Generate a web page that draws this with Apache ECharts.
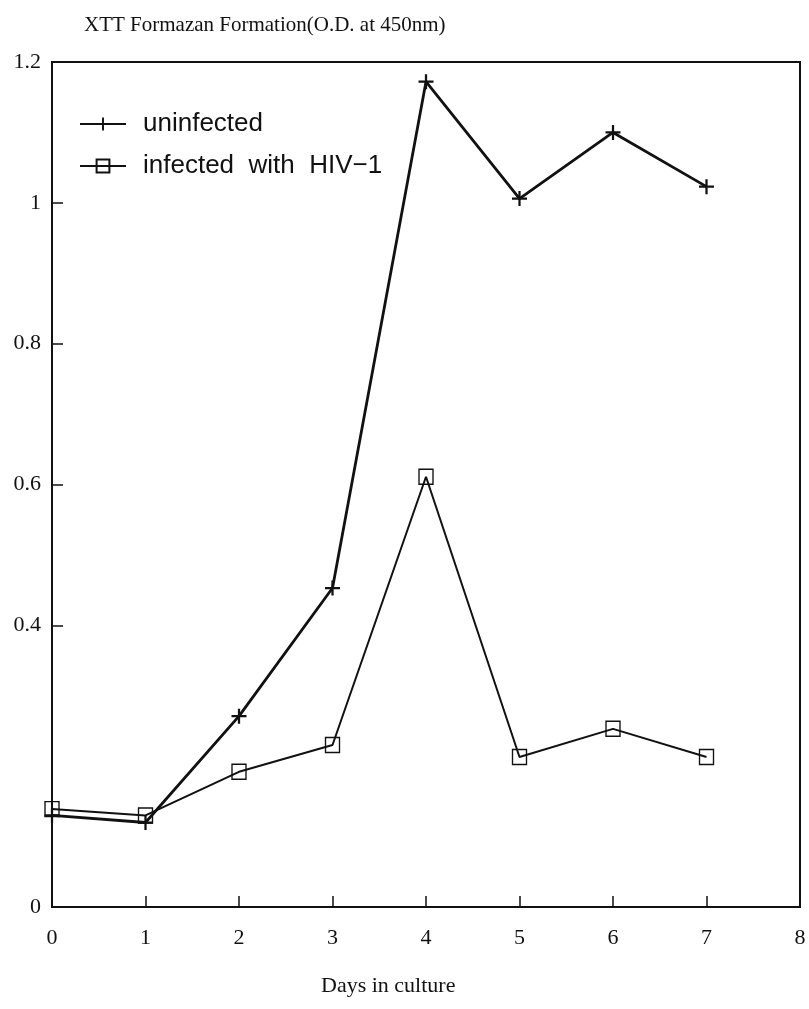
<!DOCTYPE html>
<html>
<head>
<meta charset="utf-8">
<script src="https://cdn.jsdelivr.net/npm/echarts@6/dist/echarts.min.js"></script>
<style>
html,body{margin:0;padding:0;background:#fff;}
#c{width:809px;height:1009px;}
</style>
</head>
<body>
<div id="c"></div>
<script>
const days = [0, 1, 2, 3, 4, 5, 6, 7];
const uninfected = [0.130, 0.120, 0.271, 0.453, 1.172, 1.006, 1.100, 1.023];
const infected = [0.139, 0.130, 0.192, 0.230, 0.611, 0.213, 0.253, 0.213];
const yLabelValues = [0, 0.4, 0.6, 0.8, 1, 1.2];
const yTickValues = [0.4, 0.6, 0.8, 1];
const seriesNames = ['uninfected', 'infected  with  HIV\u22121'];
const titleText = 'XTT Formazan Formation(O.D. at 450nm)';
const xName = 'Days in culture';

const serif = '"Liberation Serif", "DejaVu Serif", serif';
const sans = '"Liberation Sans", Arial, sans-serif';
const plus = 'path://M-1.5,-10H1.5V-1.5H10V1.5H1.5V10H-1.5V1.5H-10V-1.5H-1.5Z';

const chart = echarts.init(document.getElementById('c'), null, {renderer: 'canvas'});
chart.setOption({
  animation: false,
  backgroundColor: '#fff',
  title: [
    {text: titleText, left: 79, top: 10,
     textStyle: {fontFamily: serif, fontSize: 21, fontWeight: 'normal', color: '#111'}},
    {text: xName, left: 316, top: 970,
     textStyle: {fontFamily: serif, fontSize: 22, fontWeight: 'normal', color: '#111'}}
  ],
  legend: {
    orient: 'vertical', left: 74, top: 106, itemWidth: 46, itemHeight: 16, itemGap: 16,
    textStyle: {fontFamily: sans, fontSize: 26, color: '#111', padding: [0, 0, 0, 12]},
    data: seriesNames
  },
  grid: {left: 52, right: 9, top: 62, bottom: 102, show: true, borderColor: '#111', borderWidth: 2, backgroundColor: 'transparent'},
  xAxis: {
    type: 'value', min: 0, max: 8, interval: 1,
    axisLine: {lineStyle: {color: '#111', width: 2}},
    axisTick: {inside: true, length: 11, lineStyle: {color: '#111', width: 1.5}},
    axisLabel: {fontFamily: serif, fontSize: 22, color: '#111', margin: 20},
    splitLine: {show: false}
  },
  yAxis: {
    type: 'value', min: 0, max: 1.2, interval: 0.2,
    axisLine: {lineStyle: {color: '#111', width: 2}},
    axisTick: {inside: true, length: 11, lineStyle: {color: '#111', width: 1.5}, customValues: yTickValues},
    axisLabel: {fontFamily: serif, fontSize: 22, color: '#111', margin: 11, customValues: yLabelValues,
      formatter: v => String(Math.round(v * 10) / 10)},
    splitLine: {show: false}
  },
  series: [
    {name: seriesNames[0], type: 'line', data: days.map((d, i) => [d, uninfected[i]]),
     symbol: plus, symbolSize: 15, showAllSymbol: true,
     lineStyle: {color: '#111', width: 2.8},
     itemStyle: {color: '#111', borderWidth: 0}, z: 3},
    {name: seriesNames[1], type: 'line', data: days.map((d, i) => [d, infected[i]]),
     symbol: 'rect', symbolSize: [14, 15], showAllSymbol: true,
     lineStyle: {color: '#111', width: 2},
     itemStyle: {color: 'rgba(255,255,255,0)', borderColor: '#111', borderWidth: 1.4}, z: 2}
  ]
});
</script>
</body>
</html>
